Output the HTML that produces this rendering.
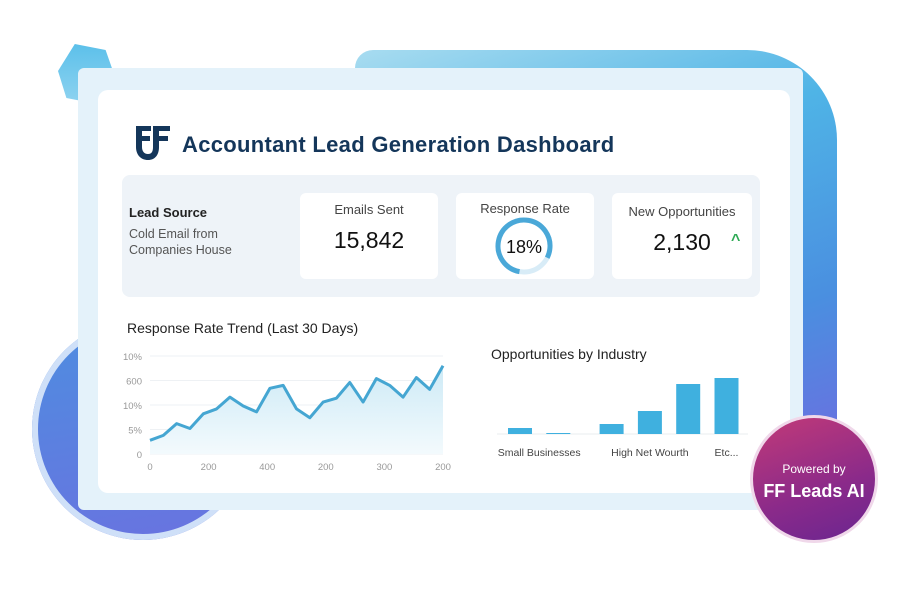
<!DOCTYPE html>
<html><head><meta charset="utf-8"><style>
body{margin:0;width:900px;height:600px;background:#fff;position:relative;overflow:hidden;font-family:"Liberation Sans",sans-serif}
.abs{position:absolute}
</style></head><body>
<div class="abs" style="left:355px;top:50px;width:482px;height:420px;border-radius:18px 90px 40px 18px;background:linear-gradient(160deg,#a8dcf0 0%,#4fb4e6 35%,#4a8fe0 70%,#6f6be0 100%)"></div>
<div class="abs" style="left:58px;top:44px;width:56px;height:60px;background:linear-gradient(180deg,#5cc0ea,#8fd3f0);clip-path:polygon(30% 0,85% 10%,100% 50%,70% 100%,15% 90%,0 45%)"></div>
<div class="abs" style="left:32px;top:318px;width:222px;height:222px;border-radius:50%;background:linear-gradient(170deg,#4d8ee0,#6a72e0);box-shadow:inset 0 0 0 6px #cfe0f8"></div>
<div class="abs" style="left:78px;top:68px;width:725px;height:442px;background:#e4f2fa;border-radius:6px"></div>
<div class="abs" style="left:98px;top:90px;width:692px;height:403px;background:#fff;border-radius:10px"></div>

<svg class="abs" style="left:135px;top:125px" width="36" height="36" viewBox="0 0 36 36">
<path d="M1 1h15v5H7v5h8v5H7v6c0 4 2 7 6 7s5-3 5-7V1h17v5h-11v5h9v5h-9v6c0 8-4 13-11 13S1 30 1 22z" fill="#14365a"/>
</svg>
<div class="abs" style="left:182px;top:132px;font-size:22px;font-weight:bold;color:#14365a;letter-spacing:0.3px">Accountant Lead Generation Dashboard</div>

<div class="abs" style="left:122px;top:175px;width:638px;height:122px;background:#eef3f8;border-radius:8px"></div>
<div class="abs" style="left:129px;top:205px;font-size:13px;font-weight:bold;color:#222">Lead Source</div>
<div class="abs" style="left:129px;top:226px;font-size:12.5px;color:#555;line-height:16px">Cold Email from<br>Companies House</div>

<div class="abs" style="left:300px;top:193px;width:138px;height:86px;background:#fff;border-radius:6px;text-align:center">
<div style="margin-top:9px;font-size:13px;color:#444">Emails Sent</div>
<div style="margin-top:10px;font-size:23px;color:#111">15,842</div></div>
<div class="abs" style="left:456px;top:193px;width:138px;height:86px;background:#fff;border-radius:6px;text-align:center">
<div style="margin-top:8px;font-size:13px;color:#444">Response Rate</div></div>
<svg class="abs" style="left:494px;top:216px" width="60" height="60">
<circle cx="30" cy="30" r="26" fill="none" stroke="#d8ecf7" stroke-width="5"/>
<circle cx="30" cy="30" r="26" fill="none" stroke="#4aa8d8" stroke-width="5" stroke-dasharray="130 200" transform="rotate(100 30 30)"/>
<text x="30" y="37" text-anchor="middle" font-size="18" fill="#111" font-family="Liberation Sans">18%</text></svg>
<div class="abs" style="left:612px;top:193px;width:140px;height:86px;background:#fff;border-radius:6px;text-align:center">
<div style="margin-top:11px;font-size:13px;color:#444">New Opportunities</div>
<div style="margin-top:10px;font-size:23px;color:#111">2,130</div></div>
<div class="abs" style="left:731px;top:232px;font-size:16px;color:#2eaa55;font-weight:bold">^</div>

<div class="abs" style="left:127px;top:320px;font-size:14px;color:#222">Response Rate Trend (Last 30 Days)</div>
<svg class="abs" id="line" style="left:0;top:0" width="900" height="600"></svg>
<div class="abs" style="left:491px;top:346px;font-size:14px;color:#222">Opportunities by Industry</div>
<svg class="abs" id="bars" style="left:0;top:0" width="900" height="600"></svg>

<div class="abs" style="left:750px;top:415px;width:128px;height:128px;border-radius:50%;background:linear-gradient(160deg,#c23a78,#8a2a8a 60%,#6a2590);border:3px solid #f0d8ea;box-sizing:border-box;text-align:center;color:#fff">
<div style="margin-top:44px;font-size:12px">Powered by</div>
<div style="margin-top:5px;font-size:18px;font-weight:bold">FF Leads AI</div></div>

<script>
const lineValues=[14,19,31,26,41,46,58,49,43,67,70,46,37,53,57,73,53,77,70,58,78,66,90];
const yTickLabels=["0","5%","10%","600","10%"];
const xTickLabels=["0","200","400","200","300","200"];
const barCategories=["Small Businesses","Small Businesses 2","High Net Worth A","High Net Wourth","Other","Etc..."];
const barValues=[6,1,10,23,50,56];
const groupLabels=["Small Businesses","High Net Wourth","Etc..."];
const groupLabelBars=[[0,1],[3,3],[5,5]];
const NS="http://www.w3.org/2000/svg";
function mk(svg,t,a){const e=document.createElementNS(NS,t);for(const k in a)e.setAttribute(k,a[k]);svg.appendChild(e);return e;}
const L=document.getElementById('line');
const x0=150,x1=443,yB=454,yT=356;
const xs=i=>x0+(x1-x0)*i/(lineValues.length-1);
const ys=v=>yB-(yB-yT)*v/100;
yTickLabels.forEach((t,i)=>{const y=yB-(yB-yT)*i/4;
const g=mk(L,'line',{x1:150,x2:443,y1:y,y2:y,stroke:'#eef1f4'});

const tx=mk(L,'text',{x:142,y:y+4,'text-anchor':'end','font-size':9.5,fill:'#999','font-family':'Liberation Sans'});tx.textContent=t;
});
xTickLabels.forEach((t,i)=>{const x=x0+(x1-x0)*i/(xTickLabels.length-1);
const tx=mk(L,'text',{x:x,y:470,'text-anchor':'middle','font-size':9.5,fill:'#999','font-family':'Liberation Sans'});tx.textContent=t;
});
let d=lineValues.map((v,i)=>(i?'L':'M')+xs(i)+' '+ys(v)).join(' ');
const defs=mk(L,'defs',{});const lg=mk(defs,'linearGradient',{id:'fg',x1:0,y1:0,x2:0,y2:1});
mk(lg,'stop',{offset:0,'stop-color':'#cdeaf6'});mk(lg,'stop',{offset:1,'stop-color':'#f3fafd'});
const area=mk(L,'path',{d:d+` L${x1} ${yB} L${x0} ${yB} Z`,fill:'url(#fg)'});

const ln=mk(L,'path',{d:d,fill:'none',stroke:'#45a6d2','stroke-width':3,'stroke-linejoin':'round'});


const B=document.getElementById('bars');
const base=434,step=38.3,gap=15,bStart=520;
const bxc=i=>bStart+i*step+(i>=2?gap:0);
const by=v=>base-v;
const bl=mk(B,'line',{x1:497,x2:748,y1:base,y2:base,stroke:'#e8ecef'});

barValues.forEach((v,i)=>{const cx=bxc(i);
const r=mk(B,'rect',{x:cx-12,y:by(v),width:24,height:base-by(v),fill:'#3fb0df'});
});
groupLabels.forEach((t,i)=>{const cx=(bxc(groupLabelBars[i][0])+bxc(groupLabelBars[i][1]))/2;
const tx=mk(B,'text',{x:cx,y:456,'text-anchor':'middle','font-size':10.5,fill:'#444','font-family':'Liberation Sans'});
tx.textContent=t;
});
</script>
</body></html>
